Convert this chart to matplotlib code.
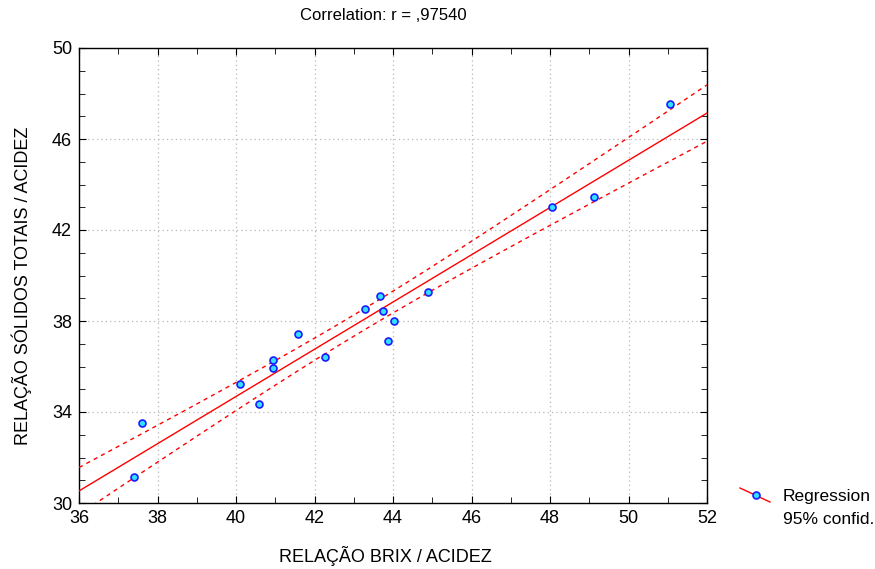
import numpy as np
import matplotlib
matplotlib.use("Agg")
import matplotlib.pyplot as plt
from matplotlib.lines import Line2D
from matplotlib.ticker import MultipleLocator

# Brix/acidity ratio vs total solids/acidity ratio
brix_acidez = [37.40, 37.61, 40.10, 40.59, 40.94, 40.94, 41.59, 42.28, 43.29,
               43.68, 43.75, 44.02, 43.88, 44.90, 48.05, 49.13, 51.05]
solidos_acidez = [31.13, 33.50, 35.21, 34.33, 36.30, 35.95, 37.43, 36.41, 38.54,
                  39.12, 38.46, 38.02, 37.13, 39.26, 43.00, 43.47, 47.56]
x_ticks = [36, 38, 40, 42, 44, 46, 48, 50, 52]
y_ticks = [30, 34, 38, 42, 46, 50]
title = 'Correlation: r = ,97540'

x = np.array(brix_acidez)
y = np.array(solidos_acidez)
n = len(x)

# Least-squares fit with 95% confidence band for the mean response
slope, intercept = np.polyfit(x, y, 1)
resid = y - (slope * x + intercept)
s = np.sqrt(np.sum(resid ** 2) / (n - 2))
t_crit = 2.131  # t(0.975, df=15)
xx = np.linspace(36, 52, 200)
yy = slope * xx + intercept
se = s * np.sqrt(1.0 / n + (xx - x.mean()) ** 2 / np.sum((x - x.mean()) ** 2))
lo = yy - t_crit * se
hi = yy + t_crit * se

plt.rcParams['font.family'] = ['Liberation Sans Narrow', 'Liberation Sans', 'DejaVu Sans']

fig = plt.figure(figsize=(8.75, 5.69), dpi=100)
ax = fig.add_axes([79 / 875, 1 - 503 / 569, (707 - 79) / 875, (503 - 48) / 569])

red = '#ff0000'
ax.plot(xx, yy, color=red, lw=1.0, zorder=3)
ax.plot(xx, lo, color=red, lw=1.0, ls=(0, (3, 3)), zorder=3)
ax.plot(xx, hi, color=red, lw=1.0, ls=(0, (3, 3)), zorder=3)
ax.plot(x, y, 'o', ms=5, mfc='#33e0ff', mec='#1a1aff', mew=1.2, zorder=4)

ax.set_xlim(36, 52)
ax.set_ylim(30, 50)
ax.set_xticks(x_ticks)
ax.set_yticks(y_ticks)
ax.xaxis.set_minor_locator(MultipleLocator(1))
ax.yaxis.set_minor_locator(MultipleLocator(1))
ax.grid(True, which='major', color='#b8b8b8', ls=(0, (1, 2.5)), lw=0.9)
ax.tick_params(which='both', direction='in', top=True, right=True,
               labelsize=13, colors='black', pad=5)
ax.tick_params(which='major', length=5)
ax.tick_params(which='minor', length=4)
for sp in ax.spines.values():
    sp.set_linewidth(1.0)
    sp.set_color('black')

fig.text(383 / 875, 1 - 16 / 569, title,
         ha='center', va='center', fontsize=12)
fig.text(385 / 875, 1 - 556 / 569, 'RELAÇÃO BRIX / ACIDEZ',
         ha='center', va='center', fontsize=13)
fig.text(22 / 875, 1 - 286 / 569, 'RELAÇÃO SÓLIDOS TOTAIS / ACIDEZ',
         ha='center', va='center', rotation=90, fontsize=13)

# Legend outside the plot area
fig.add_artist(Line2D([740 / 875, 770 / 875], [1 - 488 / 569, 1 - 502 / 569],
                      color=red, lw=1.0, transform=fig.transFigure))
fig.add_artist(Line2D([756 / 875], [1 - 495 / 569], marker='o', ms=5,
                      mfc='#33e0ff', mec='#1a1aff', mew=1.2, ls='none',
                      transform=fig.transFigure))
fig.text(783 / 875, 1 - 497 / 569, 'Regression', ha='left', va='center', fontsize=12.5)
fig.text(783 / 875, 1 - 519 / 569, '95% confid.', ha='left', va='center', fontsize=12.5)

fig.savefig('out.png', dpi=100)
